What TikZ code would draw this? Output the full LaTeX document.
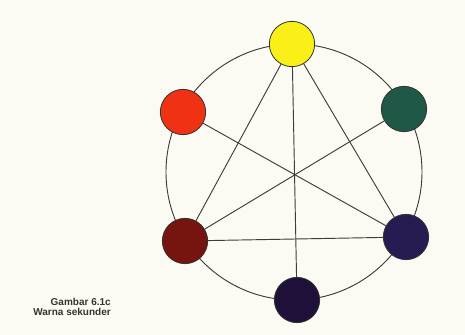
\documentclass[tikz,border=0pt]{standalone}
\usepackage{fontspec}
\setmainfont{Liberation Sans}
\usepackage{tikz}

\definecolor{kertas}{RGB}{252,251,243}
\definecolor{kuning}{RGB}{250,240,25}
\definecolor{merah}{RGB}{240,50,20}
\definecolor{hijau}{RGB}{32,88,72}
\definecolor{coklat}{RGB}{118,20,15}
\definecolor{nila}{RGB}{38,28,82}
\definecolor{ungu}{RGB}{30,16,56}
\definecolor{garis}{RGB}{60,60,60}

\tikzset{
  warna/.style={circle,draw=black!80,line width=0.6pt,minimum size=34pt,inner sep=0pt},
  hubung/.style={draw=garis,line width=0.7pt}
}

\begin{document}
\begin{tikzpicture}[x=0.75pt,y=-0.75pt]
  \fill[kertas] (0,0) rectangle (465,335);
  \useasboundingbox (0,0) rectangle (465,335);
  % lingkaran besar
  \draw[hubung] (294,172) circle (96pt);
  % warna
  \node[warna,fill=kuning] (kuning) at (292,44) {};
  \node[warna,fill=merah] (merah) at (183,112) {};
  \node[warna,fill=hijau] (hijau) at (404,109) {};
  \node[warna,fill=coklat] (coklat) at (185,241) {};
  \node[warna,fill=nila] (nila) at (406,237) {};
  \node[warna,fill=ungu] (ungu) at (297,300) {};
  % garis
  \draw[hubung] (kuning) -- (coklat);
  \draw[hubung] (kuning) -- (nila);
  \draw[hubung] (kuning) -- (ungu);
  \draw[hubung] (merah) -- (nila);
  \draw[hubung] (hijau) -- (coklat);
  \draw[hubung] (coklat) -- (nila);
  % keterangan
  \node[align=right,anchor=north east,inner sep=0pt,font=\fontsize{7.5}{7.5}\selectfont\bfseries,text=black!80] (judul) at (111,298) {Gambar 6.1c\\Warna sekunder};
\end{tikzpicture}
\end{document}
